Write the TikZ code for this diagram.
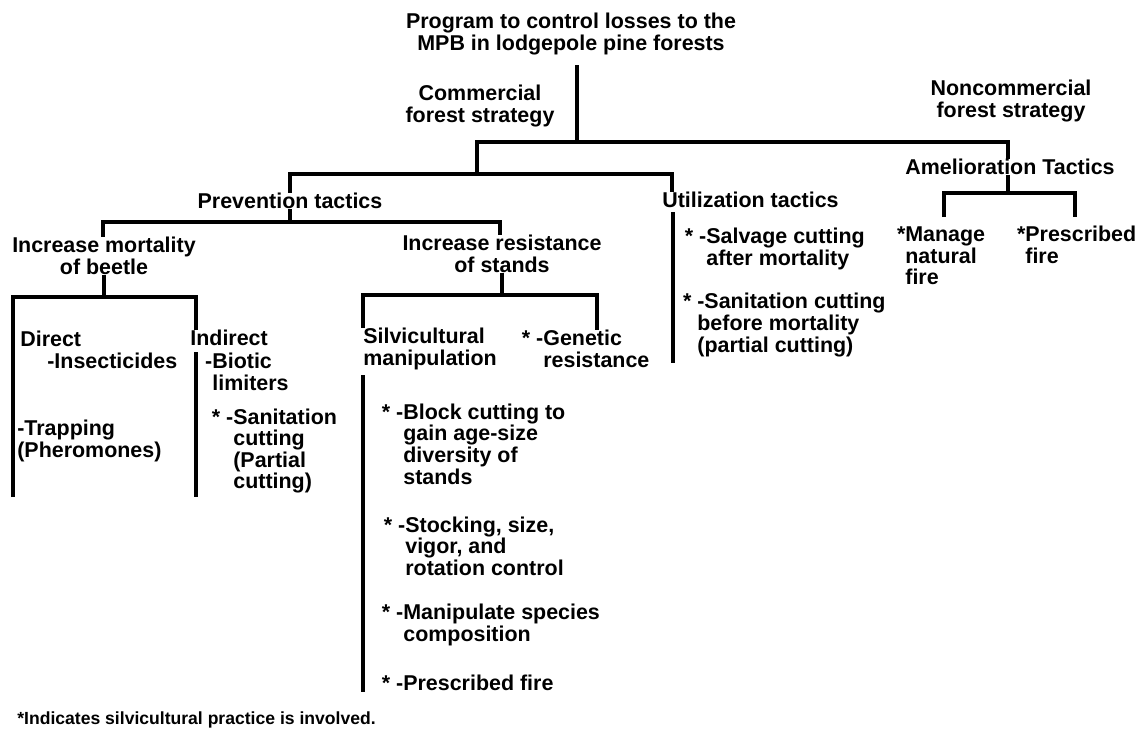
\documentclass[tikz,border=0pt]{standalone}
\usepackage{fontspec}
\setmainfont{Liberation Sans}
\begin{document}
\begin{tikzpicture}[x=0.02cm, y=-0.02cm,
    every node/.style={inner sep=0pt, font=\bfseries\fontsize{12.2}{12.3}\selectfont},
    head/.style={align=center},
    leaf/.style={align=left, anchor=west},
    branch/.style={line width=1.8pt}]
  \useasboundingbox (0,0) rectangle (1138,735);

  \node [head] (root) at (571,34) {Program to control losses to the\\MPB in lodgepole pine forests};
  \node [head] (comm) at (480,106) {Commercial\\forest strategy};
  \node [head] (noncomm) at (1011,101) {Noncommercial\\forest strategy};
  \node [head] (amel) at (1010,167) {Amelioration Tactics};
  \node [leaf] (manage) at (905,256) {\llap{*}Manage\\natural\\fire};
  \node [leaf] (presc) at (1025,245) {\llap{*}Prescribed\\fire};

  \node [head] (prev) at (290,201) {Prevention tactics};
  \node [leaf] (util) at (662,200) {Utilization tactics};
  \node [leaf] (salvage) at (706,249) {\llap{* -}Salvage cutting\\after mortality};
  \node [leaf] (before) at (697,325) {\llap{* }-Sanitation cutting\\before mortality\\(partial cutting)};

  \node [head] (mort) at (104,256) {Increase mortality\\of beetle};
  \node [leaf] (direct) at (20,350) {Direct\\\hspace*{0.54cm}-Insecticides};
  \node [leaf] (trap) at (17,441) {-Trapping\\(Pheromones)};
  \node [leaf] (indirect) at (190,338) {Indirect};
  \node [leaf] (biotic) at (212,372) {\llap{-}Biotic\\limiters};
  \node [leaf] (partial) at (233,451) {\llap{* -}Sanitation\\cutting\\(Partial\\cutting)};

  \node [head] (resist) at (502,254) {Increase resistance\\of stands};
  \node [leaf] (silv) at (363,349) {Silvicultural\\manipulation};
  \node [leaf] (genetic) at (543,349) {\llap{* -}Genetic\\resistance};
  \node [leaf] (block) at (403,444) {\llap{* -}Block cutting to\\gain age-size\\diversity of\\stands};
  \node [leaf] (stock) at (405,546) {\llap{* -}Stocking, size,\\vigor, and\\rotation control};
  \node [leaf] (species) at (403,625) {\llap{* -}Manipulate species\\composition};
  \node [leaf] (fire) at (403,683) {\llap{* -}Prescribed fire};

  \node [leaf, font=\bfseries\fontsize{10}{12}\selectfont] (note) at (17,720) {*Indicates silvicultural practice is involved.};

  \coordinate (trunk) at (577,65);
  \coordinate (split) at (577,142);
  \coordinate (commbar) at (477,142);
  \coordinate (noncommbar) at (1008,142);
  \coordinate (tactics) at (477,174);
  \coordinate (prevbar) at (290,174);
  \coordinate (utilbar) at (672,174);
  \draw [branch] (trunk) -- (split);
  \draw [branch] (tactics) -- (commbar) -- (noncommbar) -- (noncommbar |- amel.north);
  \draw [branch] (prev.north) -- (prevbar) -- (utilbar) -- (utilbar |- util.north);

  \coordinate (amelfoot) at (1008,193);
  \coordinate (managebar) at (944,193);
  \coordinate (prescbar) at (1075,193);
  \coordinate (manageleg) at (944,217);
  \coordinate (prescleg) at (1075,217);
  \draw [branch] (amel.south -| amelfoot) -- (amelfoot);
  \draw [branch] (manageleg) -- (managebar) -- (prescbar) -- (prescleg);

  \coordinate (utilstem) at (673,212);
  \coordinate (utilend) at (673,363);
  \draw [branch] (utilstem) -- (utilend);

  \coordinate (mortbar) at (103,222);
  \coordinate (resistbar) at (500,222);
  \draw [branch] (prev.south) -- (prev.south |- mortbar);
  \draw [branch] (mort.north -| mortbar) -- (mortbar) -- (resistbar) -- (resist.north -| resistbar);

  \coordinate (directbar) at (13,297);
  \coordinate (indirectbar) at (196,297);
  \coordinate (directend) at (13,497);
  \coordinate (indirectstem) at (196,352);
  \coordinate (indirectend) at (196,497);
  \draw [branch] (mort.south) -- (mort.south |- directbar);
  \draw [branch] (directend) -- (directbar) -- (indirectbar) -- (indirectbar |- indirect.north);
  \draw [branch] (indirectstem) -- (indirectend);

  \coordinate (silvbar) at (363,295);
  \coordinate (geneticbar) at (597,295);
  \coordinate (silvstem) at (363,375);
  \coordinate (silvend) at (363,692);
  \draw [branch] (resist.south) -- (resist.south |- silvbar);
  \draw [branch] (silvbar |- silv.north) -- (silvbar) -- (geneticbar) -- (geneticbar |- genetic.north);
  \draw [branch] (silvstem) -- (silvend);
\end{tikzpicture}
\end{document}
